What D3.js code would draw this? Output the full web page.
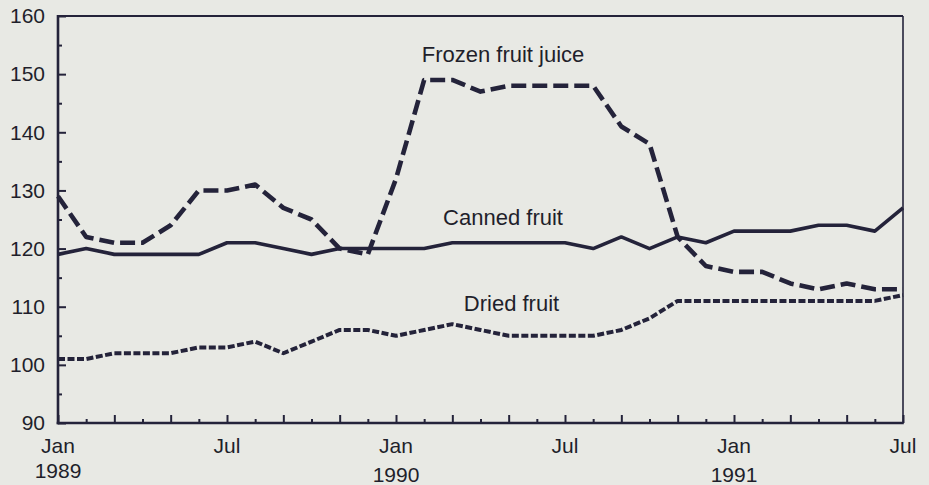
<!DOCTYPE html>
<html>
<head>
<meta charset="utf-8">
<script src="https://cdn.jsdelivr.net/npm/d3@7"></script>
<style>
  html, body { margin: 0; padding: 0; background: #e8e9e4; }
  svg { display: block; }
  text { font-family: "Liberation Sans", Arial, Helvetica, sans-serif; fill: #1f1f2b; }
</style>
</head>
<body>
<svg id="chart" width="929" height="485"></svg>
<script>
// ---- data ----
const months = d3.range(31); // Jan 1989 .. Jul 1991
const monthLabels = [
  {i: 0, m: "Jan", y: "1989"}, {i: 6, m: "Jul", y: ""},
  {i: 12, m: "Jan", y: "1990"}, {i: 18, m: "Jul", y: ""},
  {i: 24, m: "Jan", y: "1991"}, {i: 30, m: "Jul", y: ""}
];
const yTicks = [90, 100, 110, 120, 130, 140, 150, 160];
const yMinorTicks = [95, 105, 115, 125, 135, 145, 155];

const frozenJuice = [129, 122, 121, 121, 124, 130, 130, 131, 127, 125, 120, 119,
                     132, 149, 149, 147, 148, 148, 148, 148, 141, 138, 122, 117,
                     116, 116, 114, 113, 114, 113, 113];
const cannedFruit = [119, 120, 119, 119, 119, 119, 121, 121, 120, 119, 120, 120,
                     120, 120, 121, 121, 121, 121, 121, 120, 122, 120, 122, 121,
                     123, 123, 123, 124, 124, 123, 127];
const driedFruit  = [101, 101, 102, 102, 102, 103, 103, 104, 102, 104, 106, 106,
                     105, 106, 107, 106, 105, 105, 105, 105, 106, 108, 111, 111,
                     111, 111, 111, 111, 111, 111, 112];

const seriesLabels = [
  {name: "Frozen fruit juice", i: 15.8, v: 152.1},
  {name: "Canned fruit", i: 15.8, v: 124.1},
  {name: "Dried fruit", i: 16.1, v: 109.3}
];

// ---- layout ----
const L = 58, R = 903, T = 16, B = 423;
const ink = "#24233a";
const svg = d3.select("#chart");

const x = d3.scaleLinear().domain([0, 30]).range([L, R]);
const y = d3.scaleLinear().domain([90, 160]).range([B, T]);

// frame: top and right thin
svg.append("line").attr("x1", L).attr("x2", R).attr("y1", T).attr("y2", T)
  .attr("stroke", ink).attr("stroke-width", 2);
svg.append("line").attr("x1", R).attr("x2", R).attr("y1", T).attr("y2", B)
  .attr("stroke", ink).attr("stroke-width", 1.6);

// y axis
const yAxis = svg.append("g").attr("transform", `translate(${L},0)`)
  .call(d3.axisLeft(y).tickValues(yTicks).tickSize(-8).tickPadding(13).tickFormat(d3.format("d")));
yAxis.select(".domain").remove();
yAxis.selectAll("line").attr("stroke", ink).attr("stroke-width", 2);
yAxis.selectAll("text").attr("font-size", 21).style("font-family", '"Liberation Sans", Arial, sans-serif').attr("fill", "#1f1f2b");

const yMinor = svg.append("g").attr("transform", `translate(${L},0)`)
  .call(d3.axisLeft(y).tickValues(yMinorTicks).tickSize(-4).tickFormat(""));
yMinor.select(".domain").remove();
yMinor.selectAll("line").attr("stroke", ink).attr("stroke-width", 2);

// x axis
const xMajor = svg.append("g").attr("transform", `translate(0,${B})`)
  .call(d3.axisBottom(x).tickValues(months.filter(d => d % 2 === 0)).tickSize(-8).tickFormat(""));
xMajor.select(".domain").remove();
xMajor.selectAll("line").attr("stroke", ink).attr("stroke-width", 2);
const xMinor = svg.append("g").attr("transform", `translate(0,${B})`)
  .call(d3.axisBottom(x).tickValues(months.filter(d => d % 2 === 1)).tickSize(-4).tickFormat(""));
xMinor.select(".domain").remove();
xMinor.selectAll("line").attr("stroke", ink).attr("stroke-width", 2);

// axis lines (thick left & bottom)
svg.append("line").attr("x1", L).attr("x2", L).attr("y1", T - 1).attr("y2", B + 1.2)
  .attr("stroke", ink).attr("stroke-width", 2.6);
svg.append("line").attr("x1", L - 1.3).attr("x2", R + 0.8).attr("y1", B).attr("y2", B)
  .attr("stroke", ink).attr("stroke-width", 2.6);

// x labels
const xl = svg.append("g");
monthLabels.forEach(d => {
  xl.append("text").attr("x", x(d.i)).attr("y", 453).attr("text-anchor", "middle")
    .attr("font-size", 21).text(d.m);
  if (d.y) {
    xl.append("text").attr("x", x(d.i)).attr("y", d.i === 0 ? 478 : 482)
      .attr("text-anchor", "middle").attr("font-size", 21).text(d.y);
  }
});

// lines
const line = d3.line().x((d, i) => x(i)).y(d => y(d)).curve(d3.curveLinear);

svg.append("path").datum(driedFruit).attr("d", line)
  .attr("fill", "none").attr("stroke", ink).attr("stroke-width", 4)
  .attr("stroke-dasharray", "7,2.5").attr("stroke-linejoin", "round");

svg.append("path").datum(cannedFruit).attr("d", line)
  .attr("fill", "none").attr("stroke", ink).attr("stroke-width", 3.6)
  .attr("stroke-linejoin", "round");

svg.append("path").datum(frozenJuice).attr("d", line)
  .attr("fill", "none").attr("stroke", ink).attr("stroke-width", 4.6)
  .attr("stroke-dasharray", "15,6").attr("stroke-linejoin", "round");

// series labels
svg.append("g").selectAll("text").data(seriesLabels).join("text")
  .attr("x", d => x(d.i)).attr("y", d => y(d.v))
  .attr("text-anchor", "middle").attr("font-size", 22)
  .text(d => d.name);
</script>
</body>
</html>
